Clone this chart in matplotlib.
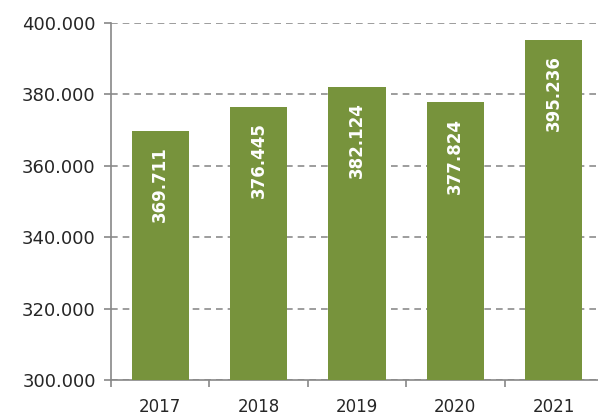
import matplotlib.pyplot as plt
from matplotlib.ticker import FuncFormatter

years = ["2017", "2018", "2019", "2020", "2021"]
values = [369711, 376445, 382124, 377824, 395236]
value_labels = ["369.711", "376.445", "382.124", "377.824", "395.236"]
y_ticks = [300000, 320000, 340000, 360000, 380000, 400000]

fig = plt.figure(figsize=(5.98, 4.16), dpi=100)
ax = fig.add_axes([0.1856, 0.0865, 0.8227, 0.858])

x = list(range(len(years)))
bars = ax.bar(x, values, width=0.58, color="#77933C", zorder=3)

# value labels inside the bars, rotated
for xi, v, lab in zip(x, values, value_labels):
    ax.text(xi, v - 4300, lab, rotation=90, ha="center", va="top",
            color="white", fontsize=12, fontweight="bold", zorder=4)

ax.set_xlim(-0.5, 4.5)
ax.set_ylim(300000, 400000)
ax.set_yticks(y_ticks)
ax.yaxis.set_major_formatter(FuncFormatter(lambda v, p: f"{int(v):,}".replace(",", ".")))
ax.set_xticks(x)
ax.set_xticklabels(years)
ax.set_xticks([i - 0.5 for i in range(len(years) + 1)], minor=True)

ax.tick_params(axis="x", which="major", length=0, labelsize=12, pad=13, colors="#262626")
ax.tick_params(axis="x", which="minor", length=5, color="#888888", width=1.2)
ax.tick_params(axis="y", length=5, color="#888888", width=1.2, labelsize=13, colors="#262626", pad=6)

ax.grid(axis="y", color="#8c8c8c", linestyle=(0, (4, 3)), linewidth=1.2, zorder=0)
for s in ["top", "right"]:
    ax.spines[s].set_visible(False)
for s in ["left", "bottom"]:
    ax.spines[s].set_color("#888888")
    ax.spines[s].set_linewidth(1.2)

fig.savefig("out.png", dpi=100)
